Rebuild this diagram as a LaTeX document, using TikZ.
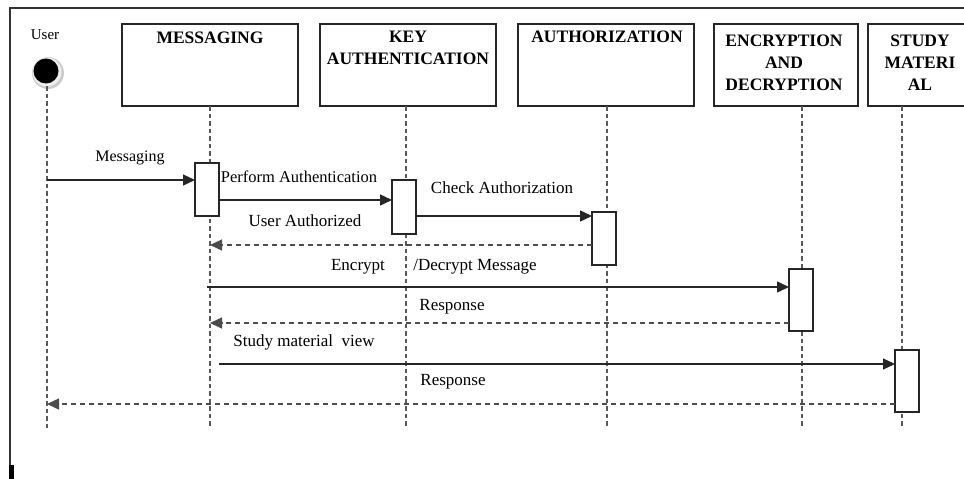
\documentclass[tikz,border=0pt]{standalone}
\usepackage{fontspec}
\setmainfont{Liberation Serif}
\usetikzlibrary{arrows.meta}
\begin{document}
\begin{tikzpicture}[x=1pt,y=-1pt,
  every node/.style={inner sep=0pt, outer sep=0pt},
  lifebox/.style={draw=black!85, line width=1.2pt, fill=white},
  title/.style={font=\bfseries\fontsize{17.5}{22}\selectfont, align=center, anchor=north, text=black},
  actbox/.style={draw=black!85, line width=1.2pt, fill=white, minimum width=24pt},
  lifeline/.style={draw=black!65, line width=1.4pt, dash pattern=on 4.5pt off 3pt},
  call/.style={draw=black!85, line width=1.4pt, -{Triangle[length=12pt,width=11pt]}},
  reply/.style={draw=black!70, line width=1.4pt, dash pattern=on 5pt off 4pt, -{Triangle[length=12pt,width=11pt]}},
  msglabel/.style={font=\fontsize{17}{19}\selectfont, text=black}
]
\useasboundingbox (0,0) rectangle (964,479);

% outer frame
\draw[black!80, line width=2pt] (964,8) -- (10,8) -- (10,465);
\fill[black] (9,465) rectangle (13.5,479);

% actor
\node[font=\fontsize{15}{17}\selectfont, text=black] (usertxt) at (45,35) {User};
\fill[black!20] (48,73) circle (16);
\fill[black!7] (47,72) circle (14.5);
\node[circle, fill=black, minimum size=25pt] (user) at (46,71) {};

% lifeline heads
\node[lifebox, minimum width=176pt, minimum height=82pt] (msg) at (210,65) {};
\node[lifebox, minimum width=176pt, minimum height=82pt] (keya) at (408,65) {};
\node[lifebox, minimum width=176pt, minimum height=82pt] (auth) at (606,65) {};
\node[lifebox, minimum width=144pt, minimum height=82pt] (enc) at (786,65) {};
\node[lifebox, minimum width=104pt, minimum height=82pt] (study) at (920,65) {};

\node[title] (msgt) at (210,32) {MESSAGING};
\node[title] (keyt) at (408,31) {KEY\\AUTHENTICATION};
\node[title] (autht) at (607,31) {AUTHORIZATION};
\node[title] (enct) at (784,35) {ENCRYPTION\\AND\\DECRYPTION};
\node[title] (studyt) at (920,35) {STUDY\\MATERI\\AL};

% lifeline ends
\coordinate (uend) at (47,428);
\coordinate (msgend) at (210,428);
\coordinate (keyend) at (406,428);
\coordinate (authend) at (607,428);
\coordinate (encend) at (802,428);
\coordinate (studyend) at (902,428);

\draw[lifeline] (47,86) -- (uend);
\draw[lifeline] (msgend |- msg.south) -- (msgend);
\draw[lifeline] (keyend |- keya.south) -- (keyend);
\draw[lifeline] (authend |- auth.south) -- (authend);
\draw[lifeline] (encend |- enc.south) -- (encend);
\draw[lifeline] (studyend |- study.south) -- (studyend);

% activation bars
\node[actbox, minimum height=53pt] (a1) at (207,189.5) {};
\node[actbox, minimum height=54pt] (a2) at (404,207) {};
\node[actbox, minimum height=53pt] (a3) at (604,238.5) {};
\node[actbox, minimum height=62pt] (a4) at (801,300) {};
\node[actbox, minimum height=62pt] (a5) at (907,381) {};

% messages
\draw[call] (uend |- 0,180) -- (a1.west |- 0,180);
\node[msglabel, font=\fontsize{16}{18}\selectfont] (l1) at (130,158) {Messaging};

\draw[call] (a1.east |- 0,200) -- (a2.west |- 0,200);
\node[msglabel, font=\fontsize{16.5}{18}\selectfont] (l2) at (299,177) {Perform Authentication};

\draw[call] (a2.east |- 0,216) -- (a3.west |- 0,216);
\node[msglabel] (l3) at (502,188) {Check Authorization};

\draw[reply] (a3.west |- 0,245) -- (msgend |- 0,245);
\node[msglabel] (l4) at (305,221) {User Authorized};

\draw[call] (207,287) -- (a4.west |- 0,287);
\node[msglabel] (l5a) at (358,267) {Encrypt};
\node[msglabel] (l5b) at (475,267) {/Decrypt Message};

\draw[reply] (a4.west |- 0,323) -- (msgend |- 0,323);
\node[msglabel] (l6) at (452,307) {Response};

\draw[call] (219,364) -- (a5.west |- 0,364);
\node[msglabel] (l7) at (304,342) {Study material\ \ view};

\draw[reply] (a5.west |- 0,404) -- (uend |- 0,404);
\node[msglabel] (l8) at (453,382) {Response};
\end{tikzpicture}
\end{document}
